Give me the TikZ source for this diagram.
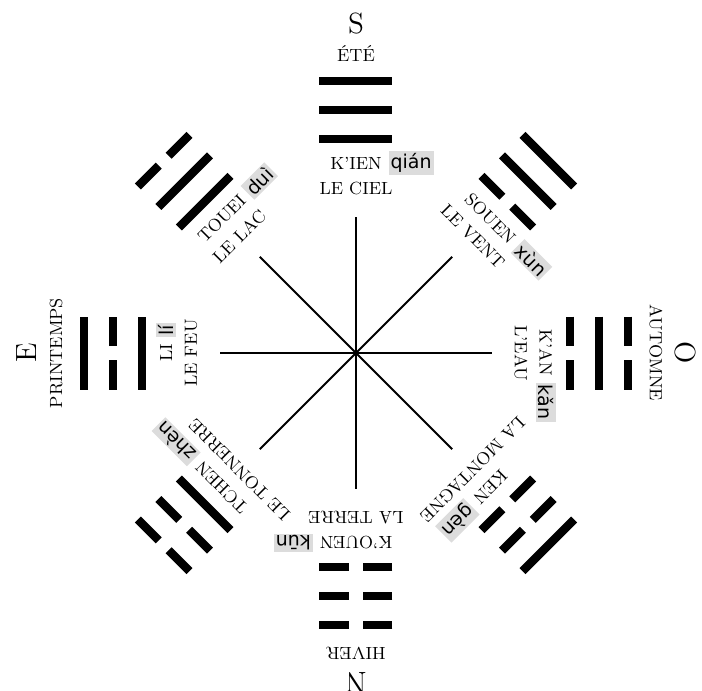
\documentclass[tikz,border=0pt]{standalone}
\usepackage{fontspec}
\newfontfamily\pyfont{DejaVu Sans}
\usetikzlibrary{positioning}
\definecolor{PyGray}{RGB}{220,220,220}

\begin{document}
\begin{tikzpicture}[x=0.5pt,y=0.5pt,
  spoke/.style={line width=1pt},
  bar/.style={line width=4.25pt},
  txt/.style={font=\fontsize{8.8}{10}\selectfont,inner ysep=1pt,inner xsep=3pt},
  pin/.style={font=\pyfont\fontsize{9.5}{10}\selectfont,fill=PyGray,inner sep=1pt,anchor=west},
  big/.style={font=\fontsize{14.6}{16}\selectfont,inner sep=0pt},
]
\useasboundingbox (-356,-338) rectangle (346,353);
\coordinate (c) at (0,0);
\foreach \ang in {0,45,...,315}{
  \coordinate (end\ang) at (\ang:136);
  \draw[spoke] (c) -- (end\ang);
}
\foreach \ang/\ta/\tb/\tc/\nom/\py/\sens in {
  90/1/1/1/K'IEN/qián/LE CIEL,
  45/0/1/1/SOUEN/xùn/LE VENT,
  0/0/1/0/K'AN/kǎn/L'EAU,
  315/0/0/1/KEN/gèn/LA MONTAGNE,
  270/0/0/0/K'OUEN/kūn/LA TERRE,
  225/1/0/0/TCHEN/zhèn/LE TONNERRE,
  180/1/0/1/LI/lí/LE FEU,
  135/1/1/0/TOUEI/duì/LE LAC}{
  \begin{scope}[rotate=\ang-90,transform shape]
    \foreach \t/\r in {\ta/214,\tb/243,\tc/272}{
      \ifnum\t=1
        \draw[bar] (-36.5,\r) -- (36.5,\r);
      \else
        \draw[bar] (-36.5,\r) -- (-7,\r) (7,\r) -- (36.5,\r);
      \fi
    }
    \node[txt] (nom\ang) at (0,190) {\nom};
    \node[pin] (py\ang) at (nom\ang.east) {\py};
    \node[txt] (sens\ang) at (0,165) {\sens};
  \end{scope}
}
\foreach \ang/\lettre/\saison in {90/S/ÉTÉ,0/O/AUTOMNE,270/N/HIVER,180/E/PRINTEMPS}{
  \node[big,rotate=\ang-90] (dir\ang) at (\ang:329) {\lettre};
  \node[txt,rotate=\ang-90] (sais\ang) at (\ang:300) {\saison};
}
\end{tikzpicture}
\end{document}
